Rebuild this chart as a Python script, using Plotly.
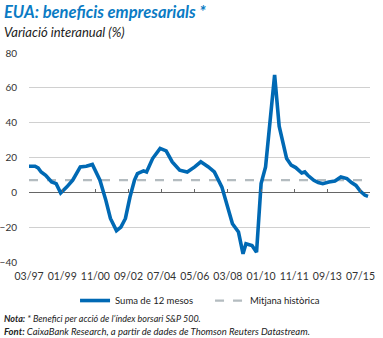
import plotly.graph_objects as go

# Annual change in S&P 500 earnings per share (12-month sum), %
dates = [
    "1997-03", "1997-07", "1997-09", "1997-11", "1998-02", "1998-06", "1998-09",
    "1998-12", "1999-04", "1999-08", "2000-01", "2000-05", "2000-09", "2001-02",
    "2001-06", "2001-09", "2002-01", "2002-04", "2002-07", "2002-10", "2003-01",
    "2003-03", "2003-07", "2003-09", "2004-01", "2004-06", "2004-10", "2005-02",
    "2005-07", "2005-12", "2006-05", "2006-09", "2007-02", "2007-06", "2007-11",
    "2008-02", "2008-06", "2008-10", "2009-01", "2009-03", "2009-07", "2009-10",
    "2010-01", "2010-04", "2010-07", "2010-10", "2011-01", "2011-06", "2011-09",
    "2011-12", "2012-04", "2012-06", "2012-08", "2012-12", "2013-03", "2013-06",
    "2013-10", "2014-02", "2014-06", "2014-10", "2015-01", "2015-04", "2015-07",
    "2015-10", "2015-12",
]
earnings = [
    15.0, 15.0, 14.0, 11.7, 9.8, 6.0, 5.0,
    -0.4, 3.0, 7.0, 14.6, 15.0, 16.0, 7.0,
    -4.6, -15.0, -22.0, -20.0, -15.0, -2.7, 7.0,
    10.8, 12.3, 11.7, 19.4, 25.2, 23.8, 17.5,
    12.7, 11.7, 14.6, 17.5, 14.6, 11.7, 3.0,
    -6.5, -18.0, -22.8, -35.3, -29.5, -30.5, -34.4,
    5.0, 14.6, 39.6, 67.4, 38.0, 19.4, 15.6,
    14.2, 11.1, 11.7, 9.8, 6.9, 5.6, 5.0,
    5.9, 6.5, 8.8, 7.9, 5.6, 4.0, 0.6,
    -1.7, -2.3,
]
historical_mean = 7.0

tick_dates = ["1997-03-01", "1999-01-01", "2000-11-01", "2002-09-01", "2004-07-01",
              "2006-05-01", "2008-03-01", "2010-01-01", "2011-11-01", "2013-09-01",
              "2015-07-01"]
tick_labels = ["03/97", "01/99", "11/00", "09/02", "07/04", "05/06", "03/08",
               "01/10", "11/11", "09/13", "07/15"]
y_ticks = [80, 60, 40, 20, 0, -20, -40]

x_range = ["1997-03-01", "2016-01-10"]
BLUE = "#0069b4"
GREY_DASH = "#b4bcc0"
FONT = "Lato, Open Sans, sans-serif"

fig = go.Figure()
# mean line first so the series is drawn on top of it
fig.add_trace(go.Scatter(
    x=[dates[0], dates[-1]], y=[historical_mean, historical_mean],
    mode="lines", name="Mitjana històrica", legendrank=2,
    line=dict(color=GREY_DASH, width=2.2, dash="dash"),
))
fig.add_trace(go.Scatter(
    x=dates, y=earnings, mode="lines", name="Suma de 12 mesos", legendrank=1,
    line=dict(color=BLUE, width=3.6),
))
# invisible helper trace so the zero-line tick axis is rendered
fig.add_trace(go.Scatter(
    x=[x_range[0]], y=[0], xaxis="x2", mode="markers",
    marker=dict(opacity=0), showlegend=False, hoverinfo="skip",
))

fig.update_layout(
    width=383, height=338,
    margin=dict(l=29, r=13, t=53, b=76, autoexpand=False),
    paper_bgcolor="white", plot_bgcolor="white",
    font=dict(family=FONT, color="#333333", size=10),
    showlegend=True,
    legend=dict(
        orientation="h", x=0.135, y=-0.115, xanchor="left", yanchor="top",
        font=dict(size=9.5, color="#222", family=FONT),
        entrywidth=90, entrywidthmode="pixels", bgcolor="rgba(0,0,0,0)",
    ),
    xaxis=dict(
        type="date", range=x_range, tickvals=tick_dates, ticktext=tick_labels,
        showgrid=False, zeroline=False, showline=False, ticks="",
        tickfont=dict(size=10.5, color="#333"), ticklabelstandoff=6,
    ),
    xaxis2=dict(
        type="date", range=x_range, overlaying="x", anchor="free",
        position=1 / 3, side="bottom", tickvals=tick_dates,
        showticklabels=False, ticks="inside", ticklen=3, tickwidth=1,
        tickcolor="#666", showgrid=False, showline=False, zeroline=False,
    ),
    yaxis=dict(
        range=[-40, 80], tickvals=y_ticks, showgrid=True,
        gridcolor="#d0d0d0", gridwidth=1, zeroline=True,
        zerolinecolor="#666666", zerolinewidth=1, showline=False, ticks="",
        tickfont=dict(size=10, color="#333"), ticklabelstandoff=11,
    ),
    annotations=[
        dict(text="<b><i>EUA: beneficis empresarials *</i></b>",
             xref="paper", yref="paper", x=-0.078, y=1.0, yshift=41,
             xanchor="left", yanchor="middle", showarrow=False,
             font=dict(size=16.5, color="#0a7bc4", family=FONT)),
        dict(text="<i>Variació interanual (%)</i>",
             xref="paper", yref="paper", x=-0.078, y=1.0, yshift=21,
             xanchor="left", yanchor="middle", showarrow=False,
             font=dict(size=13, color="#222", family=FONT)),
        dict(text="<b><i>Nota:</i></b><i> * Benefici per acció de l’índex borsari S&P 500.</i>",
             xref="paper", yref="paper", x=-0.078, y=0, yshift=-56,
             xanchor="left", yanchor="middle", showarrow=False,
             font=dict(size=9, color="#222", family=FONT)),
        dict(text="<b><i>Font:</i></b><i> CaixaBank Research, a partir de dades de Thomson Reuters Datastream.</i>",
             xref="paper", yref="paper", x=-0.078, y=0, yshift=-69,
             xanchor="left", yanchor="middle", showarrow=False,
             font=dict(size=9.5, color="#222", family=FONT)),
    ],
)

fig.write_html("out.html")
